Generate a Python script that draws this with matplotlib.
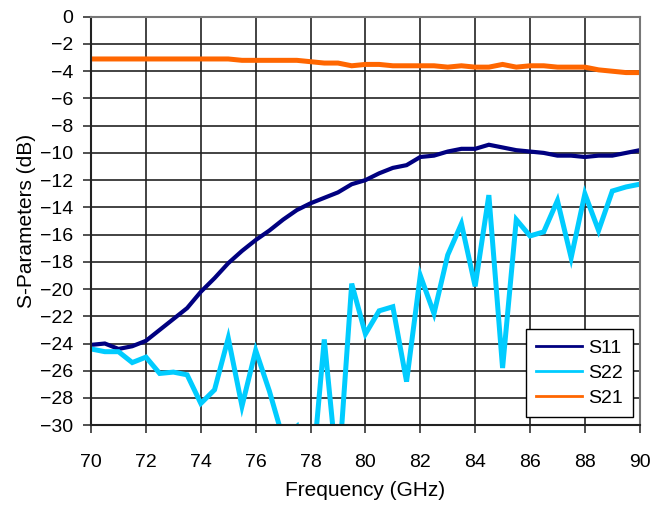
import matplotlib.pyplot as plt
from matplotlib.lines import Line2D
import numpy as np

plt.rcParams['font.family'] = ['Liberation Sans', 'DejaVu Sans']

# frequency points, 0.5 GHz step
freq = np.arange(70, 90.01, 0.5)

s11 = [-24.1, -24.0, -24.4, -24.2, -23.8, -23.0, -22.2, -21.4, -20.2, -19.2,
       -18.1, -17.2, -16.4, -15.7, -14.9, -14.2, -13.7, -13.3, -12.9, -12.3,
       -12.0, -11.5, -11.1, -10.9, -10.3, -10.2, -9.9, -9.7, -9.7, -9.4,
       -9.6, -9.8, -9.9, -10.0, -10.2, -10.2, -10.3, -10.2, -10.2, -10.0, -9.8]

s22 = [-24.4, -24.6, -24.6, -25.4, -25.0, -26.2, -26.1, -26.3, -28.4, -27.4,
       -23.6, -28.6, -24.5, -27.5, -31.0, -30.1, -35.0, -23.7, -34.0, -19.6,
       -23.3, -21.6, -21.3, -26.8, -19.0, -21.8, -17.5, -15.2, -19.8, -13.1,
       -25.8, -14.9, -16.1, -15.8, -13.5, -17.7, -13.0, -15.7, -12.8, -12.5, -12.3]

s21 = [-3.1, -3.1, -3.1, -3.1, -3.1, -3.1, -3.1, -3.1, -3.1, -3.1,
       -3.1, -3.2, -3.2, -3.2, -3.2, -3.2, -3.3, -3.4, -3.4, -3.6,
       -3.5, -3.5, -3.6, -3.6, -3.6, -3.6, -3.7, -3.6, -3.7, -3.7,
       -3.5, -3.7, -3.6, -3.6, -3.7, -3.7, -3.7, -3.9, -4.0, -4.1, -4.1]

labels = ['S11', 'S22', 'S21']
colors = ['#000080', '#00CCFF', '#FF6600']

fig = plt.figure(figsize=(6.65, 5.08), dpi=100)
ax = fig.add_axes([0.137, 0.163, 0.825, 0.804])

ax.plot(freq, s11, color=colors[0], lw=3.0, solid_joinstyle='miter')
ax.plot(freq, s22, color=colors[1], lw=3.6, solid_joinstyle='miter')
ax.plot(freq, s21, color=colors[2], lw=3.6, solid_joinstyle='miter')

ax.set_xlim(70, 90)
ax.set_ylim(-30, 0)
ax.set_xticks(np.arange(70, 91, 2))
ax.set_yticks(np.arange(-30, 1, 2))
ax.grid(True, color='#222222', lw=1.2)
ax.set_axisbelow(True)
for s in ax.spines.values():
    s.set_color('#777777')
    s.set_linewidth(1.5)
ax.spines['left'].set_color('#222222')
ax.spines['bottom'].set_color('#222222')
ax.tick_params(direction='out', length=6, width=1.2, color='#333333',
               labelsize=14)
ax.tick_params(axis='x', pad=15)
ax.tick_params(axis='y', pad=7)

ax.set_xlabel('Frequency (GHz)', fontsize=15, labelpad=7)
ax.set_ylabel('S-Parameters (dB)', fontsize=15, labelpad=3)

# legend with thin lines like the original
handles = [Line2D([], [], color=c, lw=2) for c in colors]
leg = ax.legend(handles, labels, loc='lower right', fontsize=14,
                fancybox=False, edgecolor='black', framealpha=1,
                handlelength=2.4, handletextpad=0.3, borderpad=0.5,
                labelspacing=0.4, borderaxespad=0,
                bbox_to_anchor=(0.987, 0.02))
leg.get_frame().set_linewidth(1.0)

fig.savefig('out.png', dpi=100)
